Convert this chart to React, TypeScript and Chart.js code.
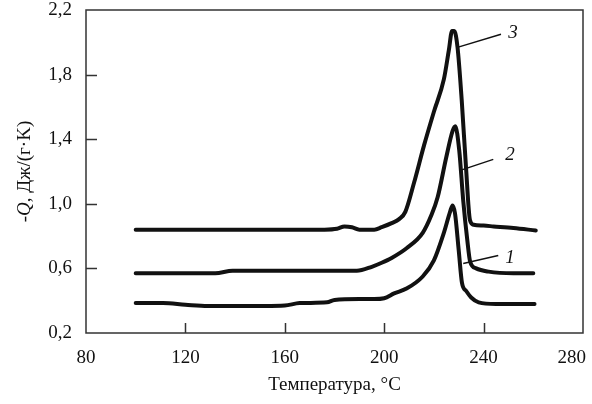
import React, { useEffect, useRef } from "react";
import { Chart, registerables } from "chart.js";

Chart.register(...registerables);

const xTicks = [80, 120, 160, 200, 240, 280];
const yTicks = [0.2, 0.6, 1.0, 1.4, 1.8, 2.2];

const x3 = [100, 140, 176, 181, 184, 187, 190, 196, 199, 203, 206, 208.5, 212, 216, 220, 224, 226, 227.3, 228.2, 229.5, 231.2, 232.9, 234.5, 236, 240, 244, 252, 261];
const y3 = [0.84, 0.84, 0.84, 0.845, 0.86, 0.855, 0.84, 0.84, 0.855, 0.88, 0.905, 0.95, 1.13, 1.36, 1.57, 1.77, 1.95, 2.07, 2.07, 1.97, 1.64, 1.23, 0.9, 0.87, 0.865, 0.86, 0.85, 0.835];

const x2 = [100, 132, 139, 170, 189, 195, 199, 203, 209, 215.5, 219, 221.5, 225, 227.5, 228.6, 230.2, 231.8, 233.4, 234.6, 237, 242, 252, 260];
const y2 = [0.57, 0.57, 0.585, 0.585, 0.585, 0.61, 0.635, 0.665, 0.725, 0.82, 0.93, 1.04, 1.29, 1.45, 1.48, 1.33, 1.02, 0.78, 0.64, 0.6, 0.58, 0.57, 0.57];

const x1 = [100, 111, 120, 129, 152, 160, 166, 177, 180, 190, 196, 200, 204, 209, 215.5, 220, 224, 226.5, 227.5, 228.5, 230, 231.3, 233, 235, 238, 245, 252, 260.5];
const y1 = [0.385, 0.385, 0.375, 0.367, 0.367, 0.37, 0.385, 0.39, 0.405, 0.41, 0.41, 0.415, 0.445, 0.475, 0.55, 0.65, 0.82, 0.95, 0.99, 0.94, 0.71, 0.51, 0.46, 0.42, 0.39, 0.38, 0.38, 0.38];

const curveLabels = ["3", "2", "1"];
const leaderX = [[229.8, 247.0], [231.2, 243.9], [231.8, 245.9]];
const leaderY = [[1.97, 2.05], [1.21, 1.275], [0.63, 0.68]];
const labelX = [251.8, 250.6, 250.6];
const labelY = [2.06, 1.30, 0.665];

const xTitle = "Температура, °C";
const yTitleParts = [
  { t: "-", italic: false },
  { t: "Q", italic: true },
  { t: ", Дж/(г·K)", italic: false },
];

const FONT = "'Liberation Serif', 'DejaVu Serif', serif";
const INK = "#111111";

const toPts = (xs: number[], ys: number[]) => xs.map((x, i) => ({ x, y: ys[i] }));

const framePlugin = {
  id: "frameAndText",
  afterDraw(chart: any) {
    const { ctx, chartArea: a, scales } = chart;
    const xs = scales.x;
    const ys = scales.y;
    ctx.save();
    ctx.strokeStyle = "#333333";
    ctx.lineWidth = 1.5;
    ctx.strokeRect(a.left, a.top, a.right - a.left, a.bottom - a.top);
    ctx.beginPath();
    xTicks.slice(1, -1).forEach((v) => {
      const px = Math.round(xs.getPixelForValue(v)) + 0.5;
      ctx.moveTo(px, a.bottom);
      ctx.lineTo(px, a.bottom - 10);
    });
    yTicks.slice(1, -1).forEach((v) => {
      const py = Math.round(ys.getPixelForValue(v)) + 0.5;
      ctx.moveTo(a.left, py);
      ctx.lineTo(a.left + 11, py);
    });
    ctx.stroke();

    ctx.fillStyle = INK;
    // x tick labels (kept inside the canvas at the right end)
    ctx.font = `19px ${FONT}`;
    ctx.textAlign = "center";
    ctx.textBaseline = "middle";
    xTicks.forEach((v) => {
      const s = String(v);
      const w = ctx.measureText(s).width;
      const px = Math.min(xs.getPixelForValue(v), chart.width - 6 - w / 2);
      ctx.fillText(s, px, a.bottom + 14 + 11.4);
    });

    ctx.font = `italic 19px ${FONT}`;
    curveLabels.forEach((s, i) => {
      ctx.fillText(s, xs.getPixelForValue(labelX[i]), ys.getPixelForValue(labelY[i]));
    });

    ctx.font = `19px ${FONT}`;
    ctx.textBaseline = "alphabetic";
    ctx.fillText(xTitle, (a.left + a.right) / 2, 390);

    ctx.translate(25, (a.top + a.bottom) / 2);
    ctx.rotate(-Math.PI / 2);
    ctx.textBaseline = "middle";
    ctx.textAlign = "left";
    const widths = yTitleParts.map((p) => {
      ctx.font = `${p.italic ? "italic " : ""}19px ${FONT}`;
      return ctx.measureText(p.t).width;
    });
    const total = widths.reduce((s, w) => s + w, 0);
    let cx = -total / 2;
    yTitleParts.forEach((p, i) => {
      ctx.font = `${p.italic ? "italic " : ""}19px ${FONT}`;
      ctx.fillText(p.t, cx, 0);
      cx += widths[i];
    });
    ctx.restore();
  },
};

export default function App() {
  const ref = useRef<HTMLCanvasElement | null>(null);
  useEffect(() => {
    if (!ref.current) return;
    const curve = (xs: number[], ys: number[]) => ({
      data: toPts(xs, ys),
      borderColor: INK,
      borderWidth: 4,
      pointRadius: 0,
      fill: false,
      cubicInterpolationMode: "monotone" as const,
      borderJoinStyle: "round" as const,
      borderCapStyle: "round" as const,
    });
    const leader = (i: number) => ({
      data: toPts(leaderX[i], leaderY[i]),
      borderColor: INK,
      borderWidth: 1.5,
      pointRadius: 0,
      fill: false,
      tension: 0,
    });
    const chart = new Chart(ref.current, {
      type: "line",
      data: {
        datasets: [curve(x3, y3), curve(x2, y2), curve(x1, y1), leader(0), leader(1), leader(2)],
      },
      options: {
        animation: false,
        responsive: false,
        maintainAspectRatio: false,
        layout: { padding: { top: 10, right: 9, left: 0, bottom: 0 } },
        plugins: { legend: { display: false }, tooltip: { enabled: false } },
        scales: {
          x: {
            type: "linear",
            min: 80,
            max: 280,
            grid: { display: false, drawTicks: false },
            border: { display: false },
            afterBuildTicks: (s: any) => {
              s.ticks = xTicks.map((v) => ({ value: v }));
            },
            afterFit: (s: any) => {
              s.height = 71;
              s.paddingLeft = 0;
              s.paddingRight = 0;
            },
            ticks: { display: false },
          },
          y: {
            type: "linear",
            min: 0.2,
            max: 2.2,
            grid: { display: false, drawTicks: false },
            border: { display: false },
            afterBuildTicks: (s: any) => {
              s.ticks = yTicks.map((v) => ({ value: v }));
            },
            afterFit: (s: any) => {
              s.width = 86;
              s.paddingTop = 0;
              s.paddingBottom = 0;
            },
            ticks: {
              padding: 14,
              color: INK,
              font: { family: FONT, size: 19 },
              autoSkip: false,
              callback: (v: any) => Number(v).toFixed(1).replace(".", ","),
            },
          },
        },
      },
      plugins: [framePlugin],
    });
    return () => chart.destroy();
  }, []);
  return (
    <div style={{ position: "fixed", left: 0, top: 0, width: 592, height: 404, background: "#fff" }}>
      <canvas ref={ref} width={592} height={404} style={{ width: 592, height: 404 }} />
    </div>
  );
}
